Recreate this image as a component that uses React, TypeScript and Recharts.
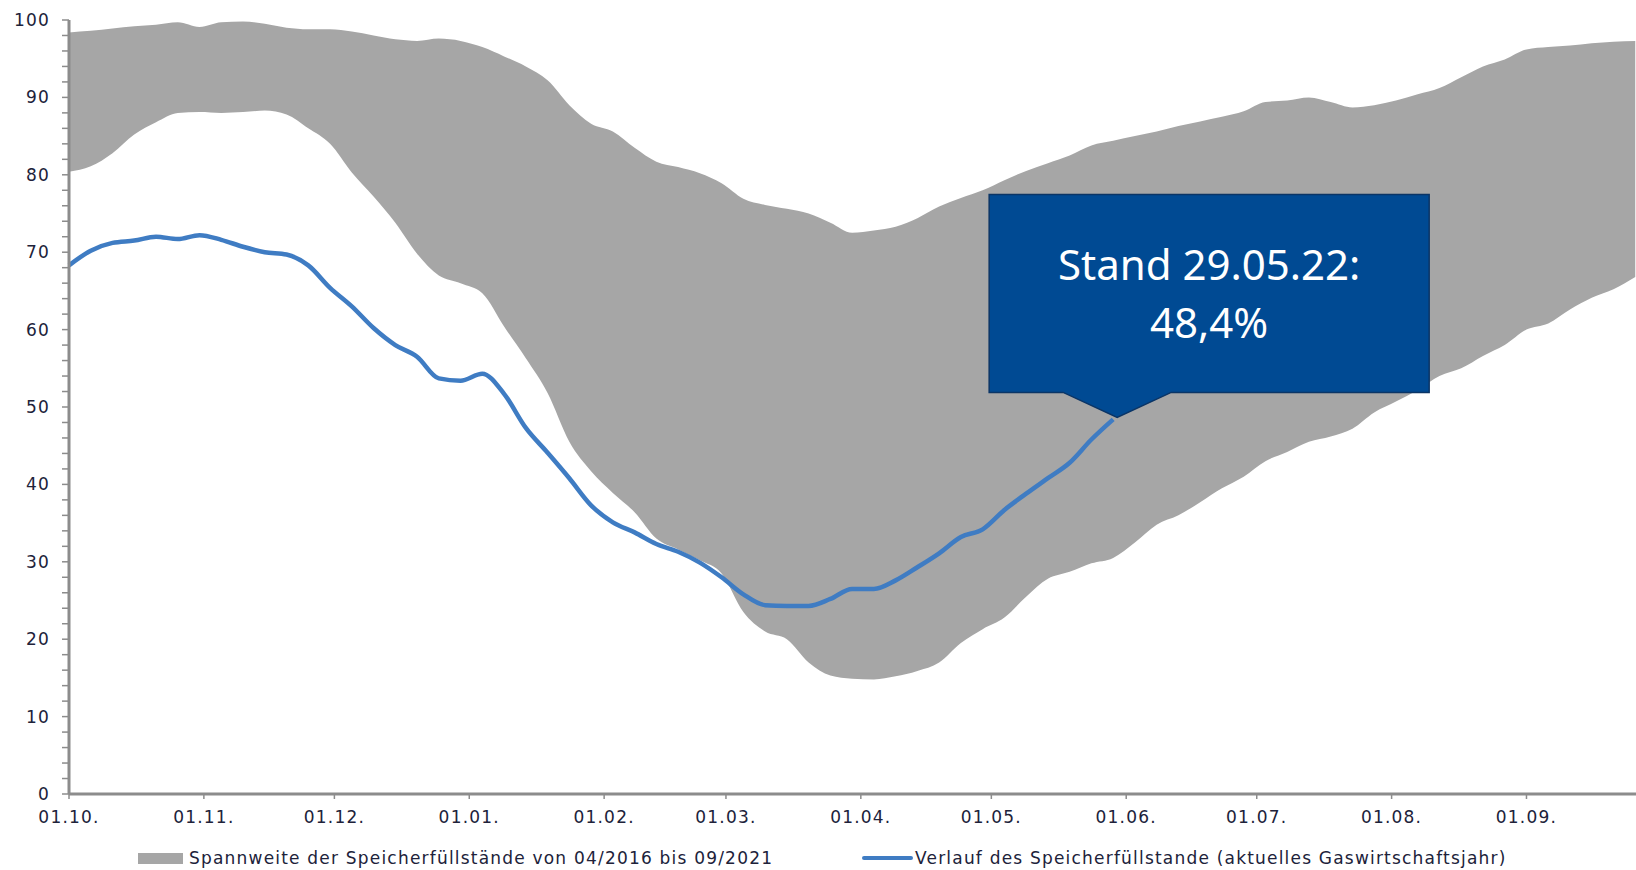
import { ComposedChart, Area, Line, XAxis, YAxis, Legend, ReferenceDot } from 'recharts';

// day index counted from 01.10., sampled every 5 days
const days = [
  0, 5, 10, 15, 20, 25, 30, 35, 40, 45, 50, 55, 60, 65, 70, 75, 80, 85, 90, 95,
  100, 105, 110, 115, 120, 125, 130, 135, 140, 145, 150, 155, 160, 165, 170, 175, 180, 185, 190, 195,
  200, 205, 210, 215, 220, 225, 230, 235, 240, 245, 250, 255, 260, 265, 270, 275, 280, 285, 290, 295,
  300, 305, 310, 315, 320, 325, 330, 335, 340, 345, 350, 355, 360,
];

// range of storage levels 04/2016 - 09/2021 (%)
const rangeLow = [
  80.4, 81.1, 82.8, 85.2, 86.8, 88.0, 88.1, 88.0, 88.1, 88.3,
  87.8, 86.0, 84.0, 80.3, 77.2, 73.8, 69.8, 67.0, 66.0, 64.7,
  60.4, 56.3, 51.8, 45.5, 41.7, 38.9, 36.4, 33.0, 31.6, 30.2,
  28.5, 23.5, 21.0, 20.0, 17.0, 15.3, 14.9, 14.8, 15.2, 15.9,
  17.0, 19.5, 21.3, 22.8, 25.5, 27.8, 28.7, 29.8, 30.5, 32.5,
  34.8, 36.0, 37.7, 39.5, 41.0, 43.0, 44.2, 45.5, 46.2, 47.2,
  49.3, 50.7, 52.2, 54.0, 55.0, 56.6, 58.0, 60.0, 60.8, 62.6,
  64.1, 65.2, 66.8,
];

const rangeHigh = [
  98.4, 98.6, 98.9, 99.2, 99.4, 99.7, 99.1, 99.7, 99.8, 99.5,
  99.0, 98.8, 98.8, 98.5, 98.0, 97.5, 97.3, 97.6, 97.3, 96.5,
  95.3, 94.0, 92.2, 89.0, 86.6, 85.6, 83.5, 81.7, 81.0, 80.2,
  78.9, 76.9, 76.1, 75.6, 75.0, 73.8, 72.5, 72.8, 73.3, 74.4,
  75.9, 77.0, 78.0, 79.3, 80.5, 81.5, 82.5, 83.8, 84.4, 85.0,
  85.6, 86.3, 86.9, 87.5, 88.2, 89.4, 89.6, 90.0, 89.4, 88.7,
  89.0, 89.6, 90.4, 91.2, 92.6, 94.0, 94.9, 96.2, 96.5, 96.7,
  97.0, 97.2, 97.3,
];

// current gas year, up to 29.05.
const current = [
  68.3, 70.2, 71.2, 71.5, 72.0, 71.7, 72.2, 71.6, 70.7, 70.0,
  69.7, 68.3, 65.4, 63.0, 60.2, 58.0, 56.5, 53.7, 53.4, 54.3,
  51.7, 47.3, 44.1, 40.8, 37.3, 35.1, 33.8, 32.3, 31.3, 29.9,
  28.0, 25.8, 24.4, 24.3, 24.3, 25.2, 26.5, 26.5, 27.6, 29.3,
  31.1, 33.2, 34.2, 36.7, 38.8, 40.8, 42.8, 45.8, 48.4,
];

const monthStarts = [0, 31, 61, 92, 123, 151, 182, 212, 243, 273, 304, 335];
const monthLabels = ['01.10.', '01.11.', '01.12.', '01.01.', '01.02.', '01.03.', '01.04.', '01.05.', '01.06.', '01.07.', '01.08.', '01.09.'];

const calloutLines = ['Stand 29.05.22:', '48,4%'];

const rangeName = 'Spannweite der Speicherfüllstände von 04/2016 bis 09/2021';
const currentName = 'Verlauf des Speicherfüllstande (aktuelles Gaswirtschaftsjahr)';

const yTicks = Array.from({ length: 51 }, (_, i) => i * 2);

const data = days.map((day, i) => ({
  day,
  range: [rangeLow[i], rangeHigh[i]],
  current: i < current.length ? current[i] : null,
}));

const lastIdx = current.length - 1;

const AXIS = '#8c8c8c';
const TEXT = '#20223a';
const FONT = '"DejaVu Sans", Verdana, sans-serif';
const tickStyle = { fill: TEXT, fontSize: 17, fontFamily: FONT, letterSpacing: 1.2 };

function Callout({ cx, cy }: { cx?: number; cy?: number }) {
  if (cx == null || cy == null) return null;
  const left = cx - 124;
  const right = cx + 316;
  const top = cy - 225;
  const bottom = cy - 27;
  const path = [
    `M${left},${top}`,
    `L${right},${top}`,
    `L${right},${bottom}`,
    `L${cx + 58},${bottom}`,
    `L${cx + 4},${cy - 2}`,
    `L${cx - 50},${bottom}`,
    `L${left},${bottom}`,
    'Z',
  ].join(' ');
  const mid = (left + right) / 2;
  return (
    <g>
      <path d={path} fill="#004a93" stroke="#0b3566" strokeWidth={1.5} />
      {calloutLines.map((t, i) => (
        <text
          key={t}
          x={mid}
          y={top + 86 + i * 58}
          textAnchor="middle"
          fill="#ffffff"
          fontFamily='"Noto Sans", sans-serif'
          fontSize={42}
        >
          {t}
        </text>
      ))}
    </g>
  );
}

const legendLeft = [138, 862];

function renderLegend(props: any) {
  const payload = props.payload ?? [];
  return (
    <div style={{ position: 'relative', height: 20, fontFamily: FONT, fontSize: 17, letterSpacing: 1.2, color: TEXT }}>
      {payload.map((entry: any, i: number) => (
        <div
          key={entry.value}
          style={{ position: 'absolute', left: legendLeft[i], top: 0, height: 20, display: 'flex', alignItems: 'center', whiteSpace: 'nowrap' }}
        >
          {entry.type === 'rect' ? (
            <span style={{ display: 'inline-block', width: 45, height: 11, background: entry.color, marginRight: 6 }} />
          ) : (
            <span style={{ display: 'inline-block', width: 51, height: 4, borderRadius: 2, background: entry.color, marginRight: 2 }} />
          )}
          <span>{entry.value}</span>
        </div>
      ))}
    </div>
  );
}

export default function App() {
  return (
    <div style={{ position: 'absolute', left: 0, top: 0, width: 1636, height: 870, overflow: 'hidden', background: '#fff' }}>
      <ComposedChart width={1657} height={870} data={data} margin={{ top: 20, right: 0, left: 0, bottom: 46 }}>
        <XAxis
          dataKey="day"
          type="number"
          domain={[0, 365]}
          ticks={monthStarts}
          interval={0}
          tickFormatter={(v: number) => monthLabels[monthStarts.indexOf(v)] ?? ''}
          height={30}
          axisLine={{ stroke: AXIS, strokeWidth: 3 }}
          tickLine={{ stroke: AXIS, strokeWidth: 1.5 }}
          tickSize={5}
          tickMargin={12}
          tick={tickStyle}
        />
        <YAxis
          type="number"
          domain={[0, 100]}
          ticks={yTicks}
          interval={0}
          tickFormatter={(v: number) => (v % 10 === 0 ? String(v) : '')}
          width={69}
          axisLine={{ stroke: AXIS, strokeWidth: 3 }}
          tickLine={{ stroke: AXIS, strokeWidth: 1.5 }}
          tickSize={7}
          tickMargin={12}
          tick={tickStyle}
        />
        <Area
          dataKey="range"
          name={rangeName}
          type="monotone"
          fill="#a6a6a6"
          fillOpacity={1}
          stroke="none"
          legendType="rect"
          isAnimationActive={false}
        />
        <Line
          dataKey="current"
          name={currentName}
          type="monotone"
          stroke="#3f7cc3"
          strokeWidth={4.5}
          dot={false}
          activeDot={false}
          legendType="line"
          isAnimationActive={false}
        />
        <ReferenceDot
          x={days[lastIdx]}
          y={current[lastIdx]}
          r={0}
          shape={(p: any) => <Callout cx={p.cx} cy={p.cy} />}
        />
        <Legend
          layout="horizontal"
          verticalAlign="middle"
          align="center"
          wrapperStyle={{ top: 848, left: 0, width: 1636 }}
          content={renderLegend}
        />
      </ComposedChart>
    </div>
  );
}
